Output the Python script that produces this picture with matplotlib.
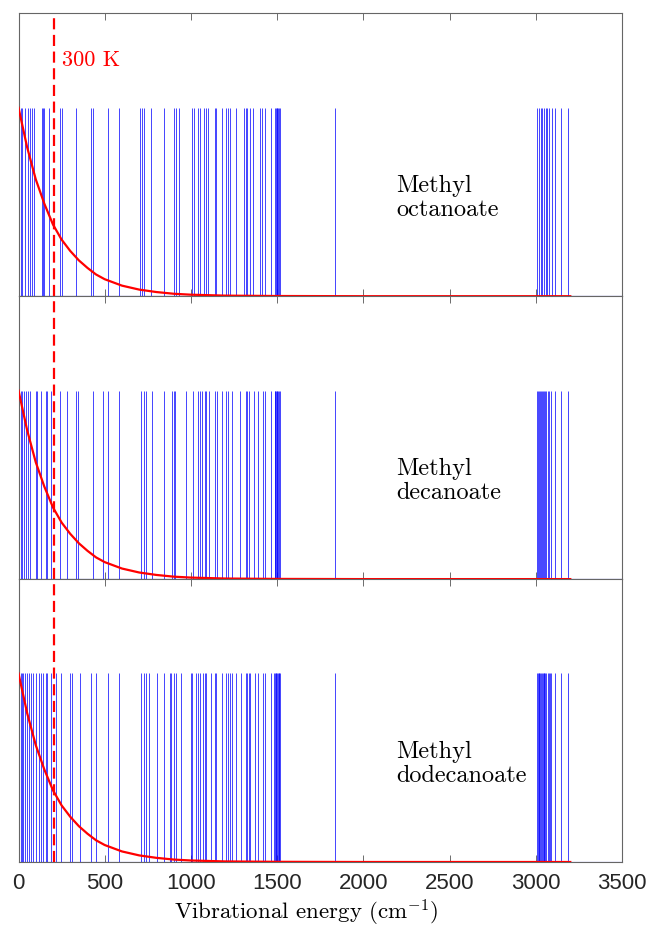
import numpy as np
import matplotlib
matplotlib.use("Agg")
import matplotlib.pyplot as plt

# 振动频率 (cm^-1)
octanoate = [14, 22, 37, 53, 66, 80, 89, 134, 143, 149, 178, 243, 253, 332, 422, 434,
             518, 582, 707, 716, 730, 768, 841, 903, 913, 928, 1009, 1018, 1041, 1051,
             1076, 1086, 1101, 1140, 1147, 1178, 1205, 1215, 1224, 1263, 1307, 1317,
             1326, 1340, 1361, 1403, 1413, 1428, 1467, 1486, 1492, 1497, 1502, 1507,
             1512, 1516, 1836, 3009, 3019, 3028, 3038, 3048, 3057, 3067, 3076, 3092,
             3111, 3149, 3186]
decanoate = [14, 22, 34, 43, 53, 66, 99, 109, 130, 157, 168, 186, 243, 282, 332, 345,
             432, 489, 518, 582, 711, 730, 740, 772, 841, 893, 903, 909, 970, 1013,
             1041, 1051, 1063, 1080, 1086, 1105, 1140, 1153, 1178, 1205, 1215, 1236,
             1284, 1317, 1326, 1336, 1365, 1390, 1419, 1428, 1465, 1486, 1490, 1494,
             1498, 1502, 1506, 1510, 1515, 1836, 3009, 3014, 3019, 3024, 3030, 3036,
             3042, 3048, 3055, 3062, 3070, 3078, 3086, 3111, 3149, 3186]
dodecanoate = [14, 21, 28, 37, 47, 60, 72, 86, 99, 118, 130, 143, 157, 166, 186, 220,
               245, 297, 311, 355, 422, 451, 518, 582, 711, 730, 740, 759, 803, 841,
               880, 884, 903, 913, 942, 999, 1009, 1032, 1043, 1051, 1070, 1080, 1090,
               1115, 1140, 1147, 1178, 1205, 1215, 1224, 1236, 1263, 1288, 1321, 1326,
               1336, 1345, 1370, 1390, 1417, 1428, 1465, 1484, 1488, 1492, 1496, 1500,
               1504, 1508, 1512, 1516, 1836, 3008, 3012, 3016, 3020, 3025, 3030, 3035,
               3040, 3045, 3050, 3056, 3062, 3068, 3074, 3080, 3088, 3111, 3149, 3186]
molecules = ["Methyl\noctanoate", "Methyl\ndecanoate", "Methyl\ndodecanoate"]

# 300 K 下的玻尔兹曼曲线，从图上读点
curve_x = [0, 50, 100, 150, 200, 250, 300, 350, 400, 450, 500, 600, 700, 800, 900,
           1000, 1200, 1500, 2000, 3200]
curve_y = [1.0, 0.79, 0.62, 0.49, 0.38, 0.30, 0.24, 0.19, 0.15, 0.115, 0.09, 0.056,
           0.035, 0.022, 0.013, 0.008, 0.003, 0.001, 0.0, 0.0]
kT_300 = 208.5

plt.rcParams['mathtext.fontset'] = 'cm'
plt.rcParams['axes.unicode_minus'] = False

fig = plt.figure(figsize=(6.5, 9.27), dpi=100)
W, H = 650, 927
left, right = 18.5, 622
top, bottom = 13.3, 862
ph = (bottom - top) / 3

spectra = [octanoate, decanoate, dodecanoate]
axes = []
for i, freqs in enumerate(spectra):
    y0 = top + i * ph
    ax = fig.add_axes([left / W, 1 - (y0 + ph) / H, (right - left) / W, ph / H])
    ax.vlines(freqs, 0, 1, color='blue', lw=0.6, alpha=0.85)
    ax.axhline(0, color='blue', lw=0.8)
    ax.plot(curve_x, curve_y, color='red', lw=1.6, zorder=5)
    ax.axvline(kT_300, color='red', lw=1.6, dashes=(5, 2.5), zorder=6)
    ax.text(2190, 0.52, molecules[i], family='cmr10', fontsize=17.5,
            ha='left', va='center', linespacing=1.1)
    ax.set_xlim(0, 3500)
    ax.set_ylim(0, 1.5)
    ax.set_yticks([])
    ax.set_xticks(np.arange(0, 3501, 500))
    ax.tick_params(axis='x', direction='in', top=True, length=5, width=0.6,
                   color='#555555', labelsize=16, labelcolor='#262626', pad=8)
    for s in ax.spines.values():
        s.set_color('#666666')
        s.set_linewidth(0.8)
    if i < 2:
        ax.tick_params(labelbottom=False)
    else:
        for lab in ax.get_xticklabels():
            lab.set_family('Liberation Sans')
        ax.set_xlabel(r'Vibrational energy (cm$^{-1}$)', family='cmr10', fontsize=16.5)
        ax.xaxis.set_label_coords(0.476, -0.125)
    axes.append(ax)

axes[0].text(kT_300 + 45, 1.25, '300 K', color='red', family='cmr10', fontsize=16,
             ha='left', va='center')

fig.savefig('out.png', dpi=100)
